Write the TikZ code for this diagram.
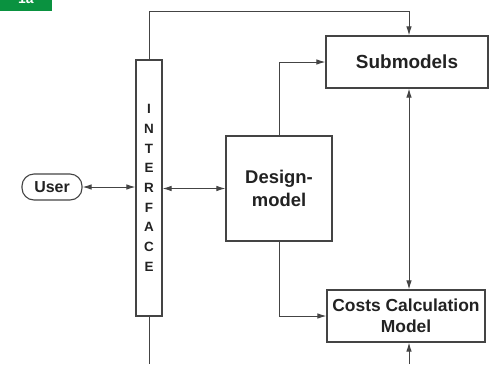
\documentclass[tikz,border=0pt]{standalone}
\usepackage{fontspec}
\setmainfont{Liberation Sans}
\usetikzlibrary{arrows.meta}
\definecolor{lin}{HTML}{444444}
\definecolor{txt}{HTML}{222222}
\definecolor{grn}{HTML}{0A9240}
\tikzset{
  box/.style={draw=lin, line width=1.1bp, fill=white, inner sep=0pt, text=txt, align=center, font=\bfseries},
  arr/.style={draw=lin, line width=1bp, -{Latex[length=9bp,width=5.5bp]}},
  darr/.style={draw=lin, line width=1bp, {Latex[length=9bp,width=5.5bp]}-{Latex[length=9bp,width=5.5bp]}},
  ln/.style={draw=lin, line width=1bp}
}
\begin{document}
\begin{tikzpicture}[x=1bp,y=-1bp]
\useasboundingbox (0,0) rectangle (490,364);
\fill[white] (0,0) rectangle (490,364);
% label tab
\node[fill=grn, minimum width=52bp, minimum height=11bp, inner sep=0pt, anchor=north west] (tab) at (0,0) {};
\node[text=white, font=\bfseries\fontsize{14}{14}\selectfont, anchor=base] (tabtxt) at (26,3) {1a};
% nodes
\node[box, minimum width=26bp, minimum height=256bp, font=\bfseries\fontsize{13.5}{19.75}\selectfont] (int) at (149,188) {I\\N\\T\\E\\R\\F\\A\\C\\E};
\node[box, minimum width=162bp, minimum height=52bp, font=\bfseries\fontsize{19}{22}\selectfont] (sub) at (407,62) {Submodels};
\node[box, minimum width=158bp, minimum height=52bp, font=\bfseries\fontsize{17.5}{21}\selectfont] (cost) at (406,316) {Costs Calculation\\Model};
\node[box, minimum width=106bp, minimum height=105bp, font=\bfseries\fontsize{18.5}{23}\selectfont] (des) at (279,188.5) {Design-\\model};
\node[box, minimum width=60bp, minimum height=26bp, rounded corners=12bp, font=\bfseries\fontsize{16}{18}\selectfont] (user) at (52,187) {User};
% connectors
\coordinate (tc) at (409,11);
\coordinate (bc) at (409,364);
\coordinate (ib) at (149,364);
\draw[arr] (int.north) |- (tc) -- (sub.north -| tc);
\draw[arr] (des.north) |- (sub.west);
\draw[arr] (des.south) |- (cost.west);
\draw[darr] (sub.south -| tc) -- (cost.north -| tc);
\draw[arr] (bc) -- (cost.south -| bc);
\draw[ln] (int.south) -- (ib);
\draw[darr] (user.east) -- (int.west |- user.east);
\draw[darr] (int.east |- des.west) -- (des.west);
\end{tikzpicture}
\end{document}
